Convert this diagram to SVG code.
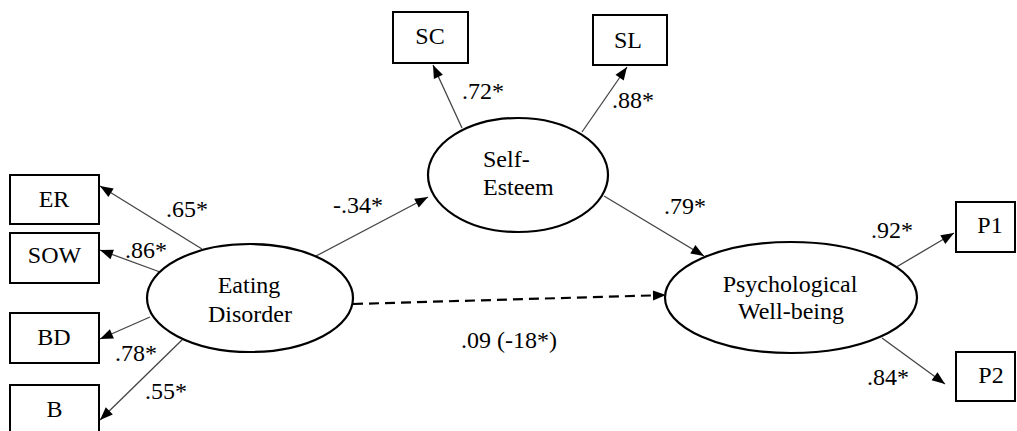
<svg xmlns="http://www.w3.org/2000/svg" width="1017" height="431" viewBox="0 0 1017 431">
<rect width="1017" height="431" fill="#fff"/>
<g id="connectors">
<g stroke="#444" stroke-width="1.3" fill="none">
<line x1="202" y1="249" x2="100" y2="186"/>
<line x1="160" y1="272" x2="100" y2="250"/>
<line x1="150" y1="317" x2="100" y2="339"/>
<line x1="185" y1="337" x2="100" y2="420"/>
<line x1="316" y1="256" x2="428" y2="197"/>
<line x1="462" y1="128" x2="433" y2="65"/>
<line x1="582" y1="132" x2="627" y2="67"/>
<line x1="604" y1="196" x2="704" y2="256"/>
<line x1="893" y1="269" x2="954" y2="233"/>
<line x1="882" y1="338" x2="945" y2="384"/>
</g>
<line x1="353" y1="304" x2="654" y2="295.4" stroke="#000" stroke-width="2.2" fill="none" stroke-dasharray="10 6"/>
<g fill="#000">
<polygon points="100,186 113.7,188.6 108.4,197.1"/>
<polygon points="100,250 113.9,249.8 110.5,259.2"/>
<polygon points="100,339 109.9,329.2 113.9,338.4"/>
<polygon points="100,420 105.8,407.3 112.8,414.5"/>
<polygon points="428,197 418.8,207.5 414.2,198.7"/>
<polygon points="666,295 653.1,300.4 652.9,290.4"/>
<polygon points="433,65 442.9,74.7 433.9,78.9"/>
<polygon points="627,67 623.7,80.5 615.5,74.8"/>
<polygon points="704,256 690.3,253.6 695.4,245.0"/>
<polygon points="954,233 945.3,243.9 940.3,235.3"/>
<polygon points="945,384 931.6,380.3 937.5,372.3"/>
</g>
<text font-family="Liberation Serif, serif" font-size="24" x="166" y="217">.65*</text>
<text font-family="Liberation Serif, serif" font-size="24" x="125" y="258">.86*</text>
<text font-family="Liberation Serif, serif" font-size="24" x="115" y="361">.78*</text>
<text font-family="Liberation Serif, serif" font-size="24" x="145" y="399">.55*</text>
<text font-family="Liberation Serif, serif" font-size="24" x="333" y="213">-.34*</text>
<text font-family="Liberation Serif, serif" font-size="24" x="462" y="99">.72*</text>
<text font-family="Liberation Serif, serif" font-size="24" x="612" y="108">.88*</text>
<text font-family="Liberation Serif, serif" font-size="24" x="664" y="214">.79*</text>
<text font-family="Liberation Serif, serif" font-size="24" x="871" y="238">.92*</text>
<text font-family="Liberation Serif, serif" font-size="24" x="867" y="385">.84*</text>
<text font-family="Liberation Serif, serif" font-size="24" x="461" y="348">.09 (-18*)</text>
</g>
<g id="ER"><rect x="10" y="175" width="89" height="49" fill="#fff" stroke="#000" stroke-width="2"/><text font-family="Liberation Serif, serif" font-size="24" text-anchor="middle" x="54" y="207">ER</text></g>
<g id="SOW"><rect x="10" y="233" width="89" height="50" fill="#fff" stroke="#000" stroke-width="2"/><text font-family="Liberation Serif, serif" font-size="24" text-anchor="middle" x="54.5" y="263">SOW</text></g>
<g id="BD"><rect x="10" y="313" width="89" height="50" fill="#fff" stroke="#000" stroke-width="2"/><text font-family="Liberation Serif, serif" font-size="24" text-anchor="middle" x="54" y="345">BD</text></g>
<g id="B"><rect x="10" y="385" width="89" height="50" fill="#fff" stroke="#000" stroke-width="2"/><text font-family="Liberation Serif, serif" font-size="24" text-anchor="middle" x="54.5" y="417">B</text></g>
<g id="SC"><rect x="393" y="12" width="75" height="51" fill="#fff" stroke="#000" stroke-width="2"/><text font-family="Liberation Serif, serif" font-size="24" text-anchor="middle" x="430" y="44">SC</text></g>
<g id="SL"><rect x="593" y="15" width="74" height="50" fill="#fff" stroke="#000" stroke-width="2"/><text font-family="Liberation Serif, serif" font-size="24" text-anchor="middle" x="628" y="48">SL</text></g>
<g id="P1"><rect x="956" y="202" width="59" height="50" fill="#fff" stroke="#000" stroke-width="2"/><text font-family="Liberation Serif, serif" font-size="24" text-anchor="middle" x="990" y="233">P1</text></g>
<g id="P2"><rect x="956" y="352" width="59" height="49" fill="#fff" stroke="#000" stroke-width="2"/><text font-family="Liberation Serif, serif" font-size="24" text-anchor="middle" x="991" y="383">P2</text></g>
<g id="EatingDisorder"><ellipse cx="250" cy="298" rx="103" ry="54" fill="#fff" stroke="#000" stroke-width="2.2"/><text font-family="Liberation Serif, serif" font-size="24" text-anchor="middle" x="249" y="293">Eating</text><text font-family="Liberation Serif, serif" font-size="24" text-anchor="middle" x="250" y="322">Disorder</text></g>
<g id="SelfEsteem"><ellipse cx="518" cy="175" rx="90" ry="57" fill="#fff" stroke="#000" stroke-width="2.2"/><text font-family="Liberation Serif, serif" font-size="24" x="483" y="167">Self-</text><text font-family="Liberation Serif, serif" font-size="24" x="483" y="195">Esteem</text></g>
<g id="PWB"><ellipse cx="791" cy="297.5" rx="126" ry="55.5" fill="#fff" stroke="#000" stroke-width="2.2"/><text font-family="Liberation Serif, serif" font-size="24" text-anchor="middle" x="790" y="292">Psychological</text><text font-family="Liberation Serif, serif" font-size="24" text-anchor="middle" x="791" y="319">Well-being</text></g>
</svg>
